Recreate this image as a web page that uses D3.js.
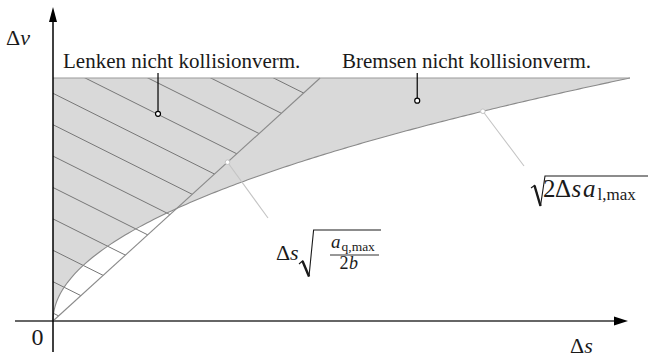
<!DOCTYPE html>
<html>
<head>
<meta charset="utf-8">
<script src="https://cdn.jsdelivr.net/npm/d3@7/dist/d3.min.js"></script>
<style>
  html, body { margin: 0; padding: 0; background: #fff; }
  svg { display: block; }
  text { font-family: "Liberation Serif", "Times New Roman", serif; fill: #1a1a1a; }
</style>
</head>
<body>
<svg id="chart" width="648" height="357"></svg>
<script>
// Relative distance Δs [m] and relative speed Δv [m/s]
const sRange = [0, 40];
const vRange = [0, 20];
const vLimit = [20];              // upper speed bound of the shaded region
const aLatMax = [5];              // a_l,max  (braking)
const aQMax = [7];                // a_q,max  (steering)
const bPar = [3];                 // b
const regionLabels = ["Lenken nicht kollisionverm.", "Bremsen nicht kollisionverm."];
const axisLabels = ["Δ", "v", "Δ", "s", "0"];
const markerS = [12.1, 29.8];     // where the formula leaders touch line / curve

const svg = d3.select("#chart");
const x = d3.scaleLinear().domain(sRange).range([53, 630]);
const y = d3.scaleLinear().domain(vRange).range([321, 78]);

const vBrake = s => Math.sqrt(2 * s * aLatMax[0]);
const steerSlope = Math.sqrt(aQMax[0] / (2 * bPar[0]));
const vSteer = s => s * steerSlope;
const sSteerTop = vLimit[0] / steerSlope;

const sGrid = d3.range(0, 1, 0.01).concat(d3.range(1, sRange[1] + 0.001, 0.25));

// shaded region between speed limit and braking curve
const area = d3.area().x(s => x(s)).y0(() => y(vLimit[0])).y1(s => y(vBrake(s)));
svg.append("path").attr("d", area(sGrid)).attr("fill", "#d9d9d9");

// hatched triangle: steering cannot avoid the collision
const sSteer = d3.range(0, sSteerTop, 0.1).concat([sSteerTop]);
const triArea = d3.area().x(s => x(s)).y0(() => y(vLimit[0])).y1(s => y(vSteer(s)));
svg.append("clipPath").attr("id", "tri").append("path").attr("d", triArea(sSteer));

const hatchStep = 31.4, hatchSlope = 0.5, hatchStart = 93.3;
const hatch = svg.append("g").attr("clip-path", "url(#tri)");
d3.range(-10, 9).forEach(k => {
  const c = hatchStart + hatchStep * k;
  hatch.append("line")
    .attr("x1", x(0) - 5).attr("y1", c - 5 * hatchSlope)
    .attr("x2", x(0) + 400).attr("y2", c + 400 * hatchSlope)
    .attr("stroke", "#767676").attr("stroke-width", 1);
});

// braking boundary √(2Δs a_l,max)
const line = d3.line().x(s => x(s)).y(s => y(vBrake(s)));
svg.append("path").attr("d", line(sGrid)).attr("fill", "none")
  .attr("stroke", "#8a8a8a").attr("stroke-width", 1.1);

// steering boundary Δs √(a_q,max / 2b)
svg.append("line")
  .attr("x1", x(0)).attr("y1", y(0))
  .attr("x2", x(sSteerTop)).attr("y2", y(vLimit[0]))
  .attr("stroke", "#8a8a8a").attr("stroke-width", 1.1);

// speed limit
svg.append("line")
  .attr("x1", x(0)).attr("y1", y(vLimit[0]))
  .attr("x2", x(sRange[1])).attr("y2", y(vLimit[0]))
  .attr("stroke", "#9a9a9a").attr("stroke-width", 1.1);

// axes
svg.append("line").attr("x1", 15).attr("y1", y(0)).attr("x2", 616).attr("y2", y(0))
  .attr("stroke", "#666").attr("stroke-width", 2);
svg.append("path").attr("d", `M628,${y(0)} L614,${y(0) - 4.5} L614,${y(0) + 4.5} Z`).attr("fill", "#000");
svg.append("line").attr("x1", x(0)).attr("y1", 352).attr("x2", x(0)).attr("y2", 20)
  .attr("stroke", "#000").attr("stroke-width", 1.5);
svg.append("path").attr("d", `M${x(0)},7 L${x(0) - 4},22 L${x(0) + 4},22 Z`).attr("fill", "#000");

// region labels with leaders
const labelY = 67.5;
svg.append("text").attr("x", 63).attr("y", labelY).attr("font-size", 21).text(regionLabels[0]);
svg.append("text").attr("x", 342).attr("y", labelY).attr("font-size", 21).text(regionLabels[1]);

const leaders = [[7.28, 17.05], [25.25, 18.13]];
leaders.forEach(([s, v]) => {
  svg.append("line").attr("x1", x(s)).attr("y1", 73).attr("x2", x(s)).attr("y2", y(v) - 2.5)
    .attr("stroke", "#000").attr("stroke-width", 1.2);
  svg.append("circle").attr("cx", x(s)).attr("cy", y(v)).attr("r", 2.5)
    .attr("fill", "#fff").attr("stroke", "#000").attr("stroke-width", 1.2);
});

// formula leaders
const fLeaders = [
  { s: markerS[0], v: vSteer(markerS[0]), tx: 268, ty: 218 },
  { s: markerS[1], v: vBrake(markerS[1]), tx: 524, ty: 166 }
];
fLeaders.forEach(d => {
  svg.append("line").attr("x1", x(d.s)).attr("y1", y(d.v)).attr("x2", d.tx).attr("y2", d.ty)
    .attr("stroke", "#c4c4c4").attr("stroke-width", 1.1);
  svg.append("circle").attr("cx", x(d.s)).attr("cy", y(d.v)).attr("r", 2.3)
    .attr("fill", "#fff").attr("stroke", "#c4c4c4").attr("stroke-width", 1);
});

// axis labels
const yl = svg.append("text").attr("x", 6).attr("y", 45).attr("font-size", 22);
yl.append("tspan").text(axisLabels[0]);
yl.append("tspan").attr("font-style", "italic").text(axisLabels[1]);
const xl = svg.append("text").attr("x", 570).attr("y", 353).attr("font-size", 22);
xl.append("tspan").text(axisLabels[2]);
xl.append("tspan").attr("font-style", "italic").text(axisLabels[3]);
svg.append("text").attr("x", 31.5).attr("y", 345).attr("font-size", 24).text(axisLabels[4]);

// formula: Δs √(a_q,max / 2b)
const f1 = svg.append("text").attr("y", 260).attr("font-size", 22);
f1.append("tspan").attr("x", 276).text("Δ");
f1.append("tspan").attr("x", 290).attr("font-style", "italic").text("s");
svg.append("path").attr("d", "M299,264 L302.5,261 L309,276.5 L313.6,230 L381,230")
  .attr("fill", "none").attr("stroke", "#1a1a1a").attr("stroke-width", 1.1);
svg.append("path").attr("d", "M302.5,261 L309,276.5").attr("stroke", "#1a1a1a").attr("stroke-width", 2.4);
const num = svg.append("text").attr("y", 248).attr("font-size", 19);
num.append("tspan").attr("x", 331).attr("font-style", "italic").text("a");
num.append("tspan").attr("x", 341.5).attr("font-size", 13.5).attr("dy", 2.5).text("q,max");
svg.append("line").attr("x1", 330).attr("x2", 379).attr("y1", 255).attr("y2", 255)
  .attr("stroke", "#1a1a1a").attr("stroke-width", 0.9);
const den = svg.append("text").attr("y", 269).attr("font-size", 18);
den.append("tspan").attr("x", 339.5).text("2");
den.append("tspan").attr("x", 349).attr("font-style", "italic").text("b");

// formula: √(2Δs a_l,max)
svg.append("path").attr("d", "M531,188 L534.5,185.5 L540.5,206 L545,176 L648,176")
  .attr("fill", "none").attr("stroke", "#1a1a1a").attr("stroke-width", 1.1);
svg.append("path").attr("d", "M534.5,185.5 L540.5,206").attr("stroke", "#1a1a1a").attr("stroke-width", 2.4);
const f2 = svg.append("text").attr("y", 197).attr("font-size", 25);
f2.append("tspan").attr("x", 543).text("2");
f2.append("tspan").attr("x", 555).text("Δ");
f2.append("tspan").attr("x", 571.5).attr("font-style", "italic").text("s");
f2.append("tspan").attr("x", 583).attr("font-style", "italic").text("a");
f2.append("tspan").attr("x", 597.5).attr("font-size", 17).attr("dy", 3).text("l,max");
</script>
</body>
</html>
